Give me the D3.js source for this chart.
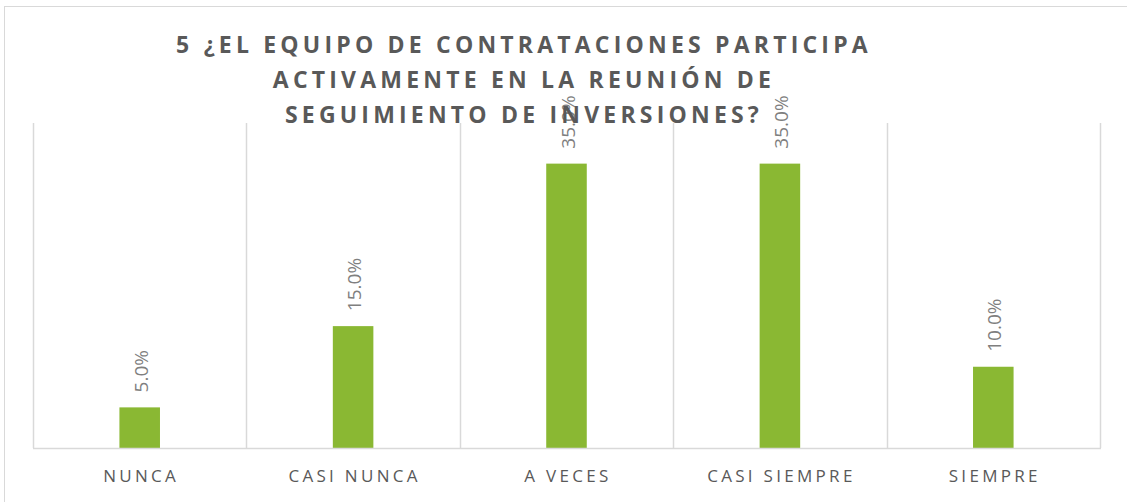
<!DOCTYPE html>
<html lang="en">
<head>
    <meta charset="UTF-8">
    <title>Equipo de contrataciones</title>
    <script src="https://d3js.org/d3.v7.min.js"></script>
</head>
<body>
<style>
    body{
        margin: 0;
        background: #fff;
    }
    text{
        font-family: "Open Sans", sans-serif;
    }
</style>
<script>
    // data
    const categories = ["NUNCA", "CASI NUNCA", "A VECES", "CASI SIEMPRE", "SIEMPRE"];
    const values = [0.05, 0.15, 0.35, 0.35, 0.10];
    const titleLines = [
        "5 ¿EL EQUIPO DE CONTRATACIONES PARTICIPA",
        "ACTIVAMENTE EN LA REUNIÓN DE",
        "SEGUIMIENTO DE INVERSIONES?"
    ];

    const W = 1127, H = 502;
    const plot = {left: 33, right: 1100, top: 123, bottom: 448};

    let svg = d3.select("body")
        .append("svg")
        .attr("width", W)
        .attr("height", H);

    // chart frame (only top and left edges are inside the picture)
    svg.append("rect")
        .attr("x", 4.5)
        .attr("y", 6.5)
        .attr("width", W + 20)
        .attr("height", H + 20)
        .attr("fill", "none")
        .attr("stroke", "#d9d9d9")
        .attr("stroke-width", 1);

    const x = d3.scaleBand()
        .domain(categories)
        .range([plot.left, plot.right])
        .paddingInner(0.81)
        .paddingOuter(0.405);

    const y = d3.scaleLinear()
        .domain([0, 0.4])
        .range([plot.bottom, plot.top]);

    // vertical gridlines between categories
    const bounds = d3.range(categories.length + 1).map(function(i){
        return plot.left + i * (plot.right - plot.left) / categories.length;
    });
    svg.selectAll(".grid")
        .data(bounds)
        .enter()
        .append("line")
        .attr("class", "grid")
        .attr("x1", d => Math.round(d) + 0.5)
        .attr("x2", d => Math.round(d) + 0.5)
        .attr("y1", y(0.4))
        .attr("y2", y(0))
        .attr("stroke", "#d9d9d9")
        .attr("stroke-width", 1.5);

    // bars
    svg.selectAll(".bar")
        .data(values)
        .enter()
        .append("rect")
        .attr("class", "bar")
        .attr("x", (d, i) => x(categories[i]))
        .attr("width", x.bandwidth())
        .attr("y", d => y(d))
        .attr("height", d => y(0) - y(d))
        .attr("fill", "#8ab833");

    // baseline
    svg.append("line")
        .attr("x1", plot.left)
        .attr("x2", plot.right + 1)
        .attr("y1", y(0) + 0.5)
        .attr("y2", y(0) + 0.5)
        .attr("stroke", "#d9d9d9")
        .attr("stroke-width", 1.5);

    // data labels, rotated
    svg.selectAll(".lbl")
        .data(values)
        .enter()
        .append("text")
        .attr("class", "lbl")
        .attr("transform", function(d, i){
            const cx = x(categories[i]) + x.bandwidth() / 2;
            return "translate(" + (cx + 1) + "," + (y(d) - 15) + ") rotate(-90)";
        })
        .attr("dominant-baseline", "central")
        .attr("text-anchor", "start")
        .attr("font-size", 19)
        .attr("fill", "#7f7f7f")
        .text(d => d3.format(".1%")(d));

    // category labels
    svg.selectAll(".cat")
        .data(categories)
        .enter()
        .append("text")
        .attr("class", "cat")
        .attr("x", d => x(d) + x.bandwidth() / 2 + 1.5)
        .attr("y", 482)
        .attr("text-anchor", "middle")
        .attr("font-size", 17)
        .attr("letter-spacing", 3.3)
        .attr("fill", "#595959")
        .text(d => d);

    // title
    svg.selectAll(".title")
        .data(titleLines)
        .enter()
        .append("text")
        .attr("class", "title")
        .attr("x", 524)
        .attr("y", (d, i) => 53 + i * 35)
        .attr("text-anchor", "middle")
        .attr("font-size", 23)
        .attr("font-weight", "bold")
        .attr("letter-spacing", 4.2)
        .attr("fill", "#595959")
        .text(d => d);
</script>
</body>
</html>
